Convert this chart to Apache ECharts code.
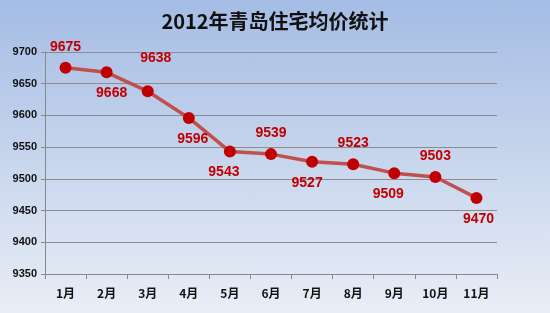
<!DOCTYPE html>
<html><head><meta charset="utf-8">
<script src="https://cdn.jsdelivr.net/npm/echarts@6/dist/echarts.min.js"></script>
<style>html,body{margin:0;padding:0;}#c{width:550px;height:313px;background:linear-gradient(to bottom,#a4bce4,#e9eef6);}</style>
</head><body><div id="c"></div>
<script>
const titleText = '2012年青岛住宅均价统计';
const months = ['1月','2月','3月','4月','5月','6月','7月','8月','9月','10月','11月'];
const prices = [9675, 9668, 9638, 9596, 9543, 9539, 9527, 9523, 9509, 9503, 9470];
const yMin = 9350, yMax = 9700, yStep = 50;
// label placement (style only)
const labelPlace = [
  {p:'top', o:[0,-2]}, {p:'bottom', o:[5,2]}, {p:'top', o:[8,-14]}, {p:'bottom', o:[4,2]},
  {p:'bottom', o:[-6,2]}, {p:'top', o:[0,-2]}, {p:'bottom', o:[-5,2]}, {p:'top', o:[0,-2]},
  {p:'bottom', o:[-6,2]}, {p:'top', o:[0,-2]}, {p:'bottom', o:[2,2]}
];
const chart = echarts.init(document.getElementById('c'), null, {renderer:'canvas'});
chart.setOption({
  backgroundColor: 'transparent',
  title: {text: titleText, left: 'center', top: 6,
    textStyle: {fontSize: 20, fontWeight: 'bold', color: '#111', fontFamily: 'Noto Sans CJK SC'}},
  grid: {left: 45, right: 53, top: 52, bottom: 39},
  xAxis: {type: 'category', data: months, boundaryGap: true,
    axisLine: {lineStyle: {color: '#888'}},
    axisTick: {show: true, alignWithLabel: false, lineStyle: {color: '#888'}},
    axisLabel: {color: '#111', fontWeight: 'bold', fontSize: 12, margin: 13, fontFamily: 'Noto Sans CJK SC'}},
  yAxis: {type: 'value', min: yMin, max: yMax, interval: yStep,
    axisLine: {show: true, lineStyle: {color: '#888'}},
    axisTick: {show: true, inside: false, length: 4, lineStyle: {color: '#888'}},
    axisLabel: {color: '#111', fontWeight: 'bold', fontSize: 11, margin: 8, fontFamily: 'Liberation Sans',
      formatter: v => String(v)},
    splitLine: {lineStyle: {color: '#8c8c8c', width: 1}}},
  series: [{
    type: 'line',
    data: prices.map((v, i) => ({value: v, label: {position: labelPlace[i].p, offset: labelPlace[i].o}})),
    symbol: 'circle', symbolSize: 12,
    lineStyle: {color: '#c0504d', width: 3.5},
    itemStyle: {color: '#c00000'},
    label: {show: true, color: '#c00000', fontWeight: 'bold', fontSize: 14, distance: 6, fontFamily: 'Liberation Sans'},
    animation: false
  }],
  animation: false
});
</script></body></html>
